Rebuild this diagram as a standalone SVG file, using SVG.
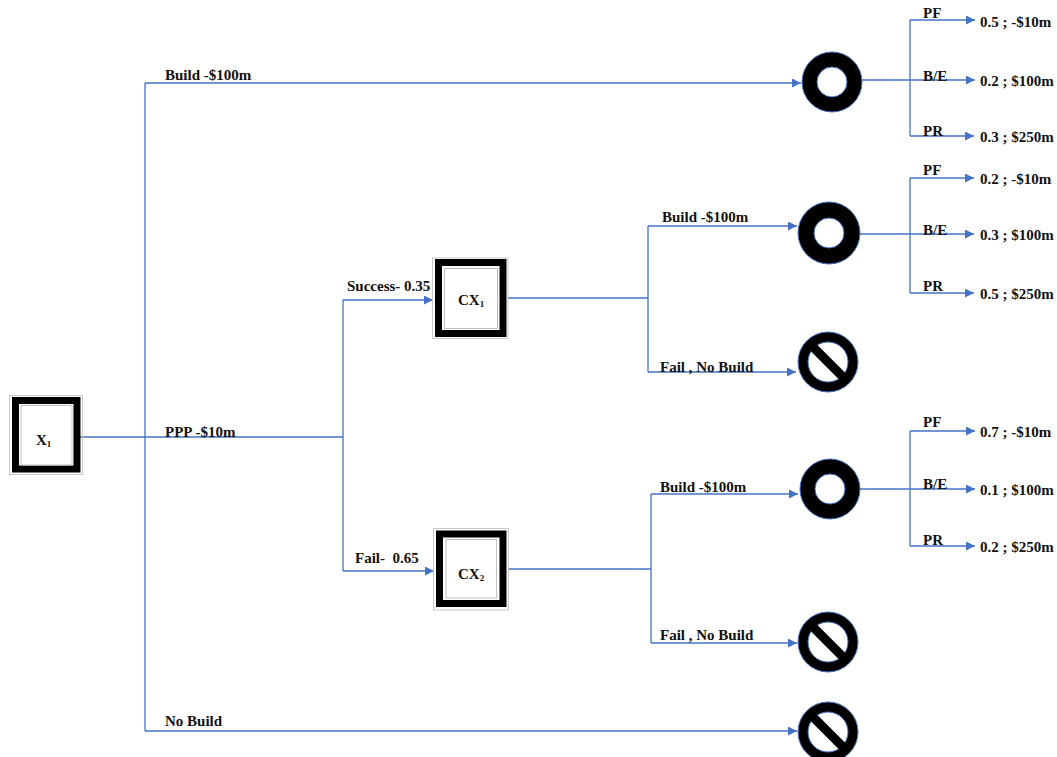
<svg xmlns="http://www.w3.org/2000/svg" width="1057" height="757" viewBox="0 0 1057 757">
<defs>
<style>
.t{font-family:"Liberation Serif","Times New Roman",serif;font-weight:bold;font-size:15px;fill:#111;white-space:pre}
.ln{stroke:#4472C4;stroke-width:1.3;fill:none}
.outer{fill:none;stroke:#c8c8c8;stroke-width:1}
.frame{fill:#fff;stroke:#000;stroke-width:7}
.inner{fill:none;stroke:#c0c0c0;stroke-width:1}
.ring{fill:#000;stroke:#4472C4;stroke-width:1}
.hole{fill:#fff;stroke:#4472C4;stroke-width:1}
</style>
<marker id="ar" viewBox="0 0 10 10" refX="10" refY="5" markerWidth="10" markerHeight="9" markerUnits="userSpaceOnUse" orient="auto">
<path d="M0,0 L10,5 L0,10 z" fill="#4472C4"/>
</marker>
</defs>
<rect width="1057" height="757" fill="#fff"/>

<g id="connectors">
<path class="ln" d="M80,437 H343"/>
<path class="ln" d="M145,83 V731"/>
<path class="ln" d="M145,83 H801" marker-end="url(#ar)"/>
<path class="ln" d="M145,731 H797" marker-end="url(#ar)"/>
<path class="ln" d="M343,300 V571"/>
<path class="ln" d="M343,300 H433" marker-end="url(#ar)"/>
<path class="ln" d="M343,571 H434" marker-end="url(#ar)"/>
<path class="ln" d="M508,298 H648"/>
<path class="ln" d="M648,226 V372"/>
<path class="ln" d="M648,226 H797" marker-end="url(#ar)"/>
<path class="ln" d="M648,372 H796" marker-end="url(#ar)"/>
<path class="ln" d="M508,569 H651"/>
<path class="ln" d="M651,494 V643"/>
<path class="ln" d="M651,494 H798" marker-end="url(#ar)"/>
<path class="ln" d="M651,643 H797" marker-end="url(#ar)"/>
<path class="ln" d="M847,80 H910"/>
<path class="ln" d="M910,20 V136"/>
<path class="ln" d="M910,20 H975" marker-end="url(#ar)"/>
<path class="ln" d="M910,80 H975" marker-end="url(#ar)"/>
<path class="ln" d="M910,136 H974" marker-end="url(#ar)"/>
<path class="ln" d="M844,234 H910"/>
<path class="ln" d="M910,178 V293"/>
<path class="ln" d="M910,178 H974" marker-end="url(#ar)"/>
<path class="ln" d="M910,234 H974" marker-end="url(#ar)"/>
<path class="ln" d="M910,293 H974" marker-end="url(#ar)"/>
<path class="ln" d="M845,489 H910"/>
<path class="ln" d="M910,431 V546"/>
<path class="ln" d="M910,431 H975" marker-end="url(#ar)"/>
<path class="ln" d="M910,489 H975" marker-end="url(#ar)"/>
<path class="ln" d="M910,546 H975" marker-end="url(#ar)"/>
</g>

<g id="labels">
<text class="t" x="165" y="80">Build -$100m</text>
<text class="t" x="165" y="437">PPP -$10m</text>
<text class="t" x="165" y="726">No Build</text>
<text class="t" x="347" y="291">Success- 0.35</text>
<text class="t" x="355" y="563">Fail-  0.65</text>
<text class="t" x="662" y="222">Build -$100m</text>
<text class="t" x="660" y="372">Fail , No Build</text>
<text class="t" x="660" y="492">Build -$100m</text>
<text class="t" x="660" y="640">Fail , No Build</text>
<text class="t" x="923" y="18">PF</text>
<text class="t" x="923" y="81">B/E</text>
<text class="t" x="923" y="136">PR</text>
<text class="t" x="980" y="27">0.5 ; -$10m</text>
<text class="t" x="980" y="86">0.2 ; $100m</text>
<text class="t" x="980" y="142">0.3 ; $250m</text>
<text class="t" x="923" y="175">PF</text>
<text class="t" x="923" y="235">B/E</text>
<text class="t" x="923" y="291">PR</text>
<text class="t" x="980" y="184">0.2 ; -$10m</text>
<text class="t" x="980" y="240">0.3 ; $100m</text>
<text class="t" x="980" y="299">0.5 ; $250m</text>
<text class="t" x="923" y="427">PF</text>
<text class="t" x="923" y="489">B/E</text>
<text class="t" x="923" y="545">PR</text>
<text class="t" x="980" y="437">0.7 ; -$10m</text>
<text class="t" x="980" y="495">0.1 ; $100m</text>
<text class="t" x="980" y="552">0.2 ; $250m</text>
</g>

<g id="X1">
<rect class="outer" x="9.5" y="395.5" width="73" height="79"/>
<rect class="frame" x="15.5" y="400.5" width="61.5" height="68.5"/>
<rect class="inner" x="21" y="405.5" width="51" height="59.5"/>
<text class="t" x="36" y="445">X<tspan font-size="9" dy="2">1</tspan></text>
</g>

<g id="CX1">
<rect class="outer" x="432.5" y="258" width="75.5" height="80.5"/>
<rect class="frame" x="438.5" y="262.5" width="64.5" height="71"/>
<rect class="inner" x="444.5" y="268.5" width="53" height="60"/>
<text class="t" x="458" y="305">CX<tspan font-size="9" dy="2">1</tspan></text>
</g>

<g id="CX2">
<rect class="outer" x="433.5" y="528.5" width="75" height="81.5"/>
<rect class="frame" x="439.5" y="534" width="63.5" height="69.5"/>
<rect class="inner" x="446" y="539.5" width="50.5" height="58.5"/>
<text class="t" x="458" y="579">CX<tspan font-size="9" dy="2">2</tspan></text>
</g>

<g id="chance1">
<circle class="ring" cx="832" cy="82" r="30"/>
<circle class="hole" cx="832" cy="82" r="15"/>
</g>
<g id="chance2">
<circle class="ring" cx="829" cy="233" r="31"/>
<circle class="hole" cx="829" cy="233" r="15"/>
</g>
<g id="chance3">
<circle class="ring" cx="830" cy="489" r="30"/>
<circle class="hole" cx="830" cy="489" r="15"/>
</g>

<g id="end1">
<circle class="ring" cx="828" cy="362" r="30"/>
<circle class="hole" cx="828" cy="362" r="20"/>
<line x1="812" y1="346" x2="844" y2="378" stroke="#000" stroke-width="9"/>
</g>
<g id="end2">
<circle class="ring" cx="828" cy="642" r="30"/>
<circle class="hole" cx="828" cy="642" r="20"/>
<line x1="812" y1="626" x2="844" y2="658" stroke="#000" stroke-width="9"/>
</g>
<g id="end3">
<circle class="ring" cx="828" cy="732" r="30"/>
<circle class="hole" cx="828" cy="732" r="20"/>
<line x1="812" y1="716" x2="844" y2="748" stroke="#000" stroke-width="9"/>
</g>
</svg>
